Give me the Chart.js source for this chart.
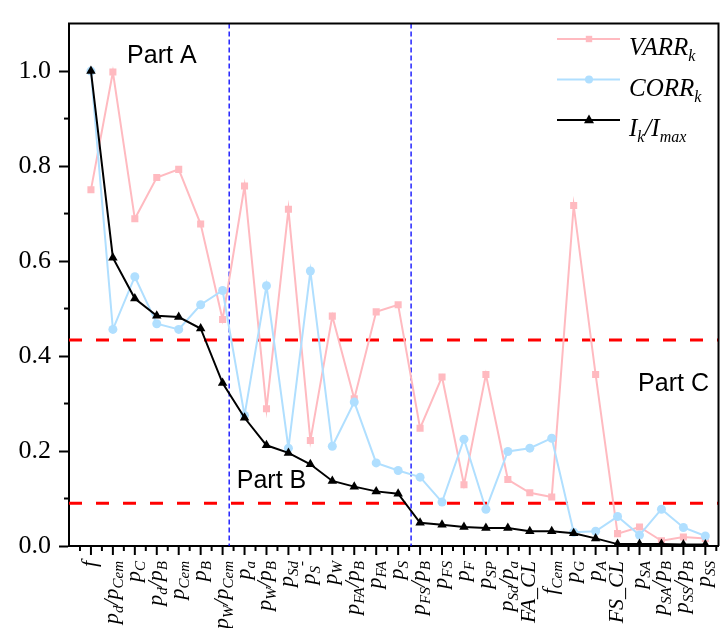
<!DOCTYPE html>
<html><head><meta charset="utf-8">
<style>html,body{margin:0;padding:0;background:#fff;}canvas{display:block;}</style>
<script src="https://cdn.jsdelivr.net/npm/chart.js@4/dist/chart.umd.min.js"></script>
</head><body>
<canvas id="c" width="724" height="628"></canvas>
<script>
const categories = ['f','p_{d}/p_{Cem}','p_{C}','p_{d}/p_{B}','p_{Cem}','p_{B}','p_{W}/p_{Cem}','p_{a}','p_{W}/p_{B}','p_{Sd}','p_{S}^{-}','p_{W}','p_{FA}/p_{B}','p_{FA}','p_{S}','p_{FS}/p_{B}','p_{FS}','p_{F}','p_{SP}','p_{Sd}/p_{a}','FA_CL','f_{Cem}','p_{G}','p_{A}','FS_CL','p_{SA}','p_{SA}/p_{B}','p_{SS}/p_{B}','p_{SS}'];
const varrValues = [0.750,0.998,0.689,0.776,0.793,0.678,0.477,0.758,0.289,0.709,0.222,0.484,0.310,0.493,0.508,0.248,0.356,0.129,0.361,0.140,0.112,0.103,0.717,0.361,0.026,0.040,0.011,0.019,0.016];
const corrValues = [1.000,0.456,0.567,0.468,0.456,0.508,0.538,0.275,0.548,0.206,0.579,0.210,0.303,0.175,0.159,0.145,0.0925,0.225,0.0775,0.199,0.206,0.227,0.029,0.031,0.062,0.023,0.0775,0.039,0.021];
const intensityValues = [1.000,0.607,0.521,0.485,0.482,0.458,0.343,0.270,0.212,0.196,0.172,0.137,0.125,0.115,0.110,0.049,0.045,0.040,0.038,0.038,0.031,0.031,0.027,0.016,0.004,0.004,0.004,0.003,0.003];
const yTickValues = [0,0.2,0.4,0.6,0.8,1.0];
const yMinorTickValues = [0.1,0.3,0.5,0.7,0.9];
const thresholdValues = [0.434,0.09];
const partBoundaries = [6.3,14.59];
const partNames = ['Part A','Part B','Part C'];
const legendNames = ['VARR_{k}','CORR_{k}','I_{k}/I_{max}'];

const PINK = 'rgb(255,186,192)';
const BLUE = 'rgb(176,223,255)';

function parseRich(s){
  const segs=[];let i=0,buf='';
  while(i<s.length){
    if((s[i]==='_'||s[i]==='^')&&s[i+1]==='{'){
      if(buf){segs.push({t:buf,k:'n'});buf='';}
      const e=s.indexOf('}',i);
      segs.push({t:s.slice(i+2,e),k:s[i]==='_'?'sub':'sup'});
      i=e+1;
    } else {buf+=s[i];i++;}
  }
  if(buf)segs.push({t:buf,k:'n'});
  return segs;
}
function richWidth(ctx,segs,mainFont,subFont){
  let w=0;
  segs.forEach(s=>{ctx.font=s.k==='n'?mainFont:subFont;w+=ctx.measureText(s.t).width;});
  return w;
}
function drawRich(ctx,segs,x,y,mainFont,subFont,subDy,supDy){
  let cx=x;
  segs.forEach(s=>{
    ctx.font=s.k==='n'?mainFont:subFont;
    const dy=s.k==='sub'?subDy:(s.k==='sup'?supDy:0);
    ctx.fillText(s.t,cx,y+dy);
    cx+=ctx.measureText(s.t).width;
  });
}
function marker(ctx,style,x,y,r,color){
  ctx.save();ctx.fillStyle=color;ctx.beginPath();
  if(style==='rect'){ctx.fillRect(x-r,y-r,2*r,2*r);}
  else if(style==='circle'){ctx.arc(x,y,r,0,Math.PI*2);ctx.fill();}
  else {ctx.moveTo(x,y-r*1.1);ctx.lineTo(x+r,y+r*0.65);ctx.lineTo(x-r,y+r*0.65);ctx.closePath();ctx.fill();}
  ctx.restore();
}

const decor = {
  id:'decor',
  beforeDatasetsDraw(chart){
    const {ctx,chartArea:a,scales:{x,y}}=chart;
    ctx.save();
    ctx.beginPath();ctx.rect(a.left,a.top,a.right-a.left,a.bottom-a.top);ctx.clip();
    ctx.strokeStyle='#FF0000';ctx.lineWidth=3;ctx.setLineDash([13,14]);
    thresholdValues.forEach(v=>{const py=y.getPixelForValue(v);ctx.beginPath();ctx.moveTo(a.left,py);ctx.lineTo(a.right,py);ctx.stroke();});
    ctx.strokeStyle='#0000FF';ctx.lineWidth=1.3;ctx.setLineDash([5,3]);
    partBoundaries.forEach(v=>{const px=x.getPixelForValue(v);ctx.beginPath();ctx.moveTo(px,a.top);ctx.lineTo(px,a.bottom);ctx.stroke();});
    ctx.restore();
  },
  afterDraw(chart,args,opts){
    const {ctx,chartArea:a,scales:{x,y}}=chart;
    ctx.save();
    ctx.strokeStyle='#000';ctx.lineWidth=2;
    ctx.beginPath();ctx.moveTo(a.left-1,a.top);ctx.lineTo(a.right,a.top);ctx.lineTo(a.right,a.bottom);ctx.stroke();
    for(let i=0;i<categories.length;i++){
      const px=x.getPixelForValue(i);
      ctx.beginPath();ctx.moveTo(px,a.bottom);ctx.lineTo(px,a.bottom+9);ctx.stroke();
    }
    for(let i=-1;i<categories.length;i++){
      const px=x.getPixelForValue(i+0.5);
      ctx.beginPath();ctx.moveTo(px,a.bottom);ctx.lineTo(px,a.bottom+5);ctx.stroke();
    }
    yMinorTickValues.forEach(v=>{const py=y.getPixelForValue(v);ctx.beginPath();ctx.moveTo(a.left,py);ctx.lineTo(a.left-5,py);ctx.stroke();});
    ctx.fillStyle='#000';ctx.textBaseline='alphabetic';ctx.textAlign='left';
    const mf='italic 22px "Liberation Serif"',sf='italic 15px "Liberation Serif"';
    categories.forEach((c,i)=>{
      const segs=parseRich(c);
      const w=richWidth(ctx,segs,mf,sf);
      const px=x.getPixelForValue(i);
      ctx.save();ctx.translate(px+5,a.bottom+15);ctx.rotate(-Math.PI/2);
      drawRich(ctx,segs,-w,0,mf,sf,5,-9);
      ctx.restore();
    });
    ctx.font='25px "Liberation Sans"';ctx.textAlign='center';ctx.textBaseline='middle';
    opts.parts.forEach((p,i)=>{ctx.fillText(partNames[i],x.getPixelForValue(p[0]),y.getPixelForValue(p[1]));});
    const lf='italic 25px "Liberation Serif"',lsf='italic 16px "Liberation Serif"';
    const styles=[['rect',PINK,3.2,2],['circle',BLUE,4,2],['triangle','#000',5,2]];
    ctx.textAlign='left';ctx.textBaseline='alphabetic';
    legendNames.forEach((n,i)=>{
      const ly=39+i*40.5;
      const [st,col,r,lw]=styles[i];
      ctx.strokeStyle=col;ctx.lineWidth=lw;ctx.setLineDash([]);
      ctx.beginPath();ctx.moveTo(557,ly);ctx.lineTo(620,ly);ctx.stroke();
      marker(ctx,st,589,ly,r,col);
      ctx.fillStyle='#000';
      drawRich(ctx,parseRich(n),629,ly+16,lf,lsf,6,-10);
    });
    ctx.restore();
  }
};

const pts = arr => arr.map((v,i)=>({x:i,y:v}));
new Chart(document.getElementById('c').getContext('2d'),{
  type:'line',
  data:{datasets:[
    {label:'I',data:pts(intensityValues),borderColor:'#000',backgroundColor:'#000',borderWidth:2,pointStyle:'triangle',pointRadius:5.5,pointBorderWidth:0,order:0},
    {label:'CORR',data:pts(corrValues),borderColor:BLUE,backgroundColor:BLUE,borderWidth:2,pointStyle:'circle',pointRadius:4.5,pointBorderWidth:0,order:1},
    {label:'VARR',data:pts(varrValues),borderColor:PINK,backgroundColor:PINK,borderWidth:2,pointStyle:'rect',pointRadius:5,pointBorderWidth:0,order:2}
  ]},
  options:{
    responsive:false,animation:false,devicePixelRatio:1,
    layout:{padding:{top:11,right:2,left:0,bottom:0}},
    elements:{line:{tension:0}},
    plugins:{legend:{display:false},tooltip:{enabled:false},
      decor:{parts:[[3.23,1.032],[8.23,0.136],[26.55,0.341]]}},
    scales:{
      x:{type:'linear',min:-1,max:28.6,grid:{display:false},border:{display:true,color:'#000',width:2},ticks:{display:false},afterFit(s){s.height=82;}},
      y:{type:'linear',min:0,max:1.1,
        afterBuildTicks(s){s.ticks=yTickValues.map(v=>({value:v}));},
        ticks:{font:{family:'Liberation Serif',size:26},color:'#000',padding:8,callback:v=>Number(v).toFixed(1)},
        grid:{display:true,drawOnChartArea:false,drawTicks:true,tickLength:10,tickWidth:2,tickColor:'#000'},
        border:{display:true,color:'#000',width:2},
        afterFit(s){s.width=69;}}
    }
  },
  plugins:[decor]
});
</script>
</body></html>
